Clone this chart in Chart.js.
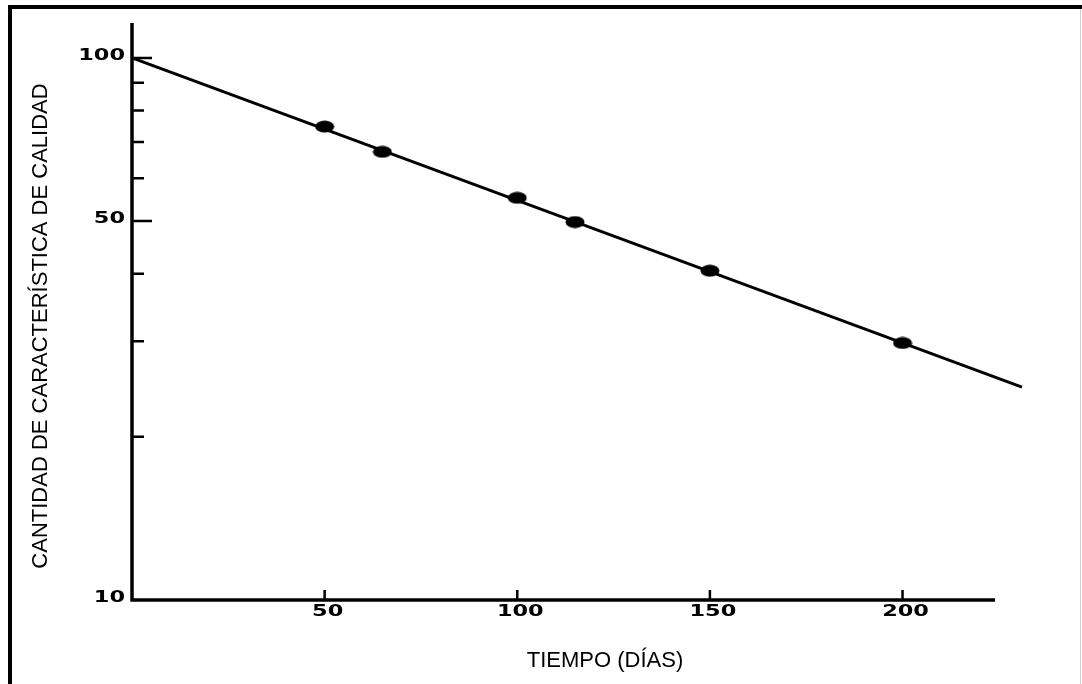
<!DOCTYPE html>
<html>
<head>
<meta charset="utf-8">
<title>Cantidad de característica de calidad vs tiempo</title>
<script src="https://cdn.jsdelivr.net/npm/chart.js@4/dist/chart.umd.min.js"></script>
<style>
  html, body { margin: 0; padding: 0; background: #fff; }
  #wrap { width: 1082px; height: 684px; }
</style>
</head>
<body>
<div id="wrap"><canvas id="chart" width="1082" height="684"></canvas></div>
<script>
// measured samples (days, quality amount)
const dayPoints = [50, 65, 100, 115, 150, 200];
const qualityPoints = [74.7, 67.1, 55.2, 49.8, 40.5, 29.8];

// fitted straight line on the log axis
const lineDays = [0, 231];
const lineQuality = [100, 24.7];

const xTickLabels = [50, 100, 150, 200];
const yTickLabels = [100, 50, 10];
const yMinorTicks = [90, 80, 70, 60, 40, 30, 20];

const xTitle = "TIEMPO (DÍAS)";
const yTitle = "CANTIDAD DE CARACTERÍSTICA DE CALIDAD";

// slightly oval black dot, like the hand-inked points
const dot = document.createElement("canvas");
dot.width = 20;
dot.height = 13;
{
  const d = dot.getContext("2d");
  d.fillStyle = "#000";
  d.beginPath();
  d.ellipse(10, 6.5, 9.5, 6, 0, 0, Math.PI * 2);
  d.fill();
}

// wide, heavy digits of the old plot
function stretchedText(ctx, text, x, y, align) {
  ctx.save();
  ctx.font = 'bold 16px "DejaVu Sans"';
  ctx.textBaseline = "middle";
  const sx = 1.4;
  const w = ctx.measureText(text).width * sx;
  let left = x;
  if (align === "right") left = x - w;
  else if (align === "center") left = x - w / 2;
  ctx.translate(left, y);
  ctx.scale(sx, 1);
  ctx.textAlign = "left";
  ctx.fillText(text, 0, 0);
  ctx.restore();
}

const paperAxes = {
  id: "paperAxes",
  beforeDatasetsDraw(chart) {
    const ctx = chart.ctx;
    const xs = chart.scales.x;
    const ys = chart.scales.y;
    const area = chart.chartArea;
    ctx.save();
    ctx.fillStyle = "#000";
    ctx.strokeStyle = "#000";

    // page frame
    ctx.fillRect(8, 5, 1074, 4);
    ctx.fillRect(8, 5, 4, 679);
    ctx.fillStyle = "#cfcfcf";
    ctx.fillRect(1080, 9, 1, 675);
    ctx.fillStyle = "#000";

    // axis lines
    ctx.lineWidth = 3.5;
    ctx.lineCap = "butt";
    ctx.beginPath();
    ctx.moveTo(area.left, area.top);
    ctx.lineTo(area.left, area.bottom + 1.5);
    ctx.moveTo(area.left - 1.5, area.bottom);
    ctx.lineTo(area.right, area.bottom);
    ctx.stroke();

    // y ticks point into the plot
    ctx.lineWidth = 2.5;
    ctx.beginPath();
    yTickLabels.forEach(v => {
      if (v === ys.min) return;
      const py = ys.getPixelForValue(v);
      ctx.moveTo(area.left, py);
      ctx.lineTo(area.left + 20, py);
    });
    yMinorTicks.forEach(v => {
      const py = ys.getPixelForValue(v);
      ctx.moveTo(area.left, py);
      ctx.lineTo(area.left + 12, py);
    });
    xTickLabels.forEach(v => {
      const px = xs.getPixelForValue(v);
      ctx.moveTo(px, area.bottom - 10);
      ctx.lineTo(px, area.bottom + 1);
    });
    ctx.stroke();

    // tick labels
    yTickLabels.forEach(v => {
      stretchedText(ctx, String(v), area.left - 7, ys.getPixelForValue(v) - 2, "right");
    });
    xTickLabels.forEach(v => {
      stretchedText(ctx, String(v), xs.getPixelForValue(v) + 3, area.bottom + 12, "center");
    });

    // axis titles
    ctx.font = '22px "Liberation Sans", Arial, sans-serif';
    ctx.textAlign = "center";
    ctx.textBaseline = "alphabetic";
    ctx.fillText(xTitle, 605, 667);
    ctx.translate(47, 326);
    ctx.rotate(-Math.PI / 2);
    ctx.fillText(yTitle, 0, 0);
    ctx.restore();
  }
};

const ctx = document.getElementById("chart").getContext("2d");
new Chart(ctx, {
  type: "scatter",
  data: {
    datasets: [
      {
        label: "recta",
        data: lineDays.map((d, i) => ({ x: d, y: lineQuality[i] })),
        showLine: true,
        borderColor: "#000",
        borderWidth: 3,
        pointRadius: 0,
        clip: false
      },
      {
        label: "muestras",
        data: dayPoints.map((d, i) => ({ x: d, y: qualityPoints[i] })),
        pointStyle: dot,
        pointRadius: 6,
        showLine: false,
        clip: false
      }
    ]
  },
  options: {
    responsive: false,
    animation: false,
    devicePixelRatio: 1,
    layout: { padding: { left: 0, top: 23, right: 87, bottom: 0 } },
    plugins: {
      legend: { display: false },
      tooltip: { enabled: false }
    },
    scales: {
      x: {
        type: "linear",
        min: 0,
        max: 224,
        grid: { display: false },
        border: { display: false },
        ticks: { display: false },
        afterFit: s => { s.height = 84; }
      },
      y: {
        type: "logarithmic",
        min: 10,
        max: 116,
        grid: { display: false },
        border: { display: false },
        ticks: { display: false },
        afterFit: s => { s.width = 132; }
      }
    }
  },
  plugins: [paperAxes]
});
</script>
</body>
</html>
